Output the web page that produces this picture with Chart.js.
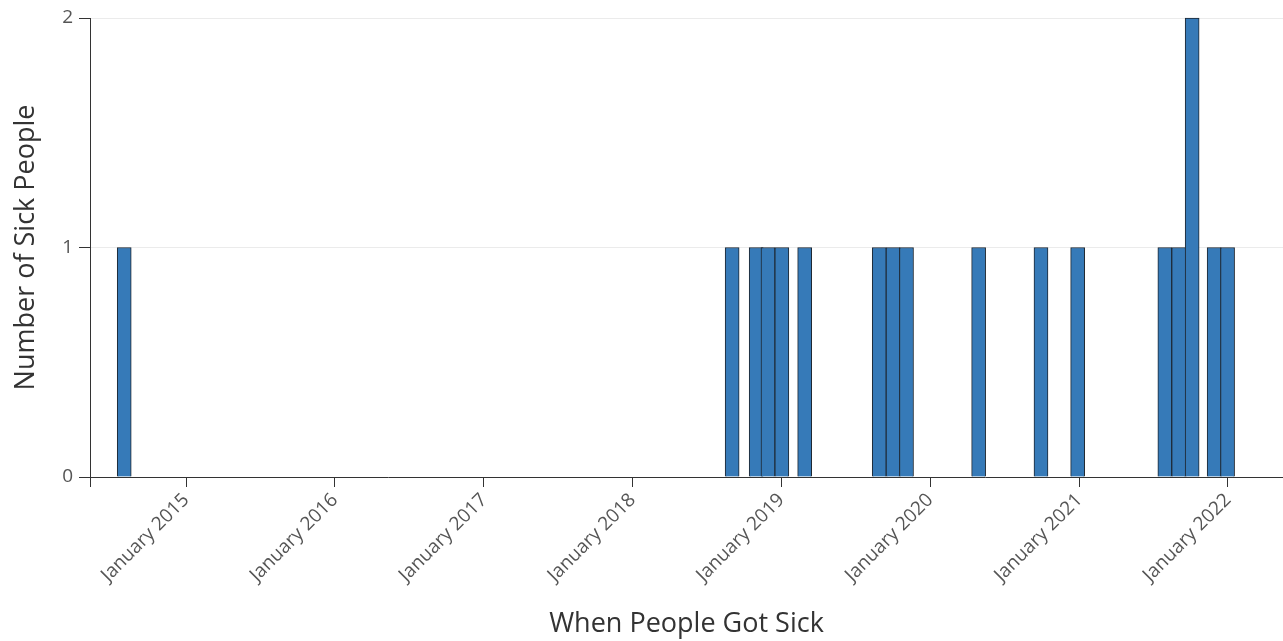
<!DOCTYPE html>
<html>
<head>
<meta charset="utf-8">
<title>When People Got Sick</title>
<script src="https://cdn.jsdelivr.net/npm/chart.js@4/dist/chart.umd.min.js"></script>
<style>
  html, body { margin: 0; padding: 0; background: #fff; }
  .wrap { width: 1283px; height: 641px; position: relative; }
</style>
</head>
<body>
<div class="wrap"><canvas id="chart"></canvas></div>
<script>
// ── Data ────────────────────────────────────────────────────
const sickDates = [
  '2014-08-02',
  '2018-09-02', '2018-10-31', '2018-11-29', '2019-01-02', '2019-02-27',
  '2019-08-29', '2019-10-02', '2019-11-04',
  '2020-04-29', '2020-09-29', '2020-12-28',
  '2021-07-30', '2021-09-02', '2021-10-05', '2021-11-28', '2021-12-31',
]
const sickCounts = [1, 1, 1, 1, 1, 1, 1, 1, 1, 1, 1, 1, 1, 1, 2, 1, 1]

const yearTicks = ['2015-01-01', '2016-01-01', '2017-01-01', '2018-01-01',
  '2019-01-01', '2020-01-01', '2021-01-01', '2022-01-01']
const yearLabels = ['January 2015', 'January 2016', 'January 2017', 'January 2018',
  'January 2019', 'January 2020', 'January 2021', 'January 2022']
const countTicks = [0, 1, 2]

const xStart = '2014-05-10'
const xEnd = '2022-05-16'

// ── Helpers ─────────────────────────────────────────────────
const toMs = (s) => Date.parse(s + 'T00:00:00Z')
const tickMs = yearTicks.map(toMs)

const axisColor = '#333'
const tickText = '#555'
const font = 'Open Sans'

new Chart(document.getElementById('chart'), {
  type: 'bar',
  data: {
    datasets: [{
      label: 'Sick people',
      data: sickDates.map((d, i) => ({ x: toMs(d), y: sickCounts[i] })),
      backgroundColor: 'rgb(54, 122, 184)',
      borderColor: '#1d2630',
      borderWidth: 1,
      barThickness: 14,
      clip: false,
    }],
  },
  options: {
    responsive: true,
    maintainAspectRatio: false,
    animation: false,
    layout: { padding: { top: 18, right: 0, left: 0, bottom: 0 } },
    plugins: { legend: { display: false }, tooltip: { enabled: false } },
    scales: {
      x: {
        type: 'linear',
        offset: false,
        min: toMs(xStart),
        max: toMs(xEnd),
        afterBuildTicks: (axis) => {
          axis.ticks = [toMs(xStart), ...tickMs].map((v) => ({ value: v }))
        },
        afterFit: (axis) => { axis.height = 164 },
        grid: {
          offset: false,
          drawOnChartArea: false,
          tickLength: 10,
          tickColor: axisColor,
        },
        border: { color: axisColor, width: 1 },
        ticks: {
          autoSkip: false,
          minRotation: 45,
          maxRotation: 45,
          padding: 2,
          color: tickText,
          font: { family: font, size: 19 },
          callback: (v) => {
            const i = tickMs.indexOf(v)
            return i >= 0 ? yearLabels[i] : ''
          },
        },
        title: {
          display: true,
          text: 'When People Got Sick',
          color: '#333',
          font: { family: font, size: 27 },
          padding: { top: 1, bottom: 0 },
        },
      },
      y: {
        min: 0,
        max: 2,
        afterBuildTicks: (axis) => {
          axis.ticks = countTicks.map((v) => ({ value: v }))
        },
        afterFit: (axis) => { axis.width = 90 },
        grid: {
          color: '#ebebeb',
          tickLength: 11,
          tickColor: axisColor,
        },
        border: { color: axisColor, width: 1 },
        ticks: {
          padding: 6,
          color: tickText,
          font: { family: font, size: 19 },
        },
        title: {
          display: true,
          text: 'Number of Sick People',
          color: '#333',
          font: { family: font, size: 27 },
          padding: { top: 10, bottom: 0 },
        },
      },
    },
  },
})
</script>
</body>
</html>
